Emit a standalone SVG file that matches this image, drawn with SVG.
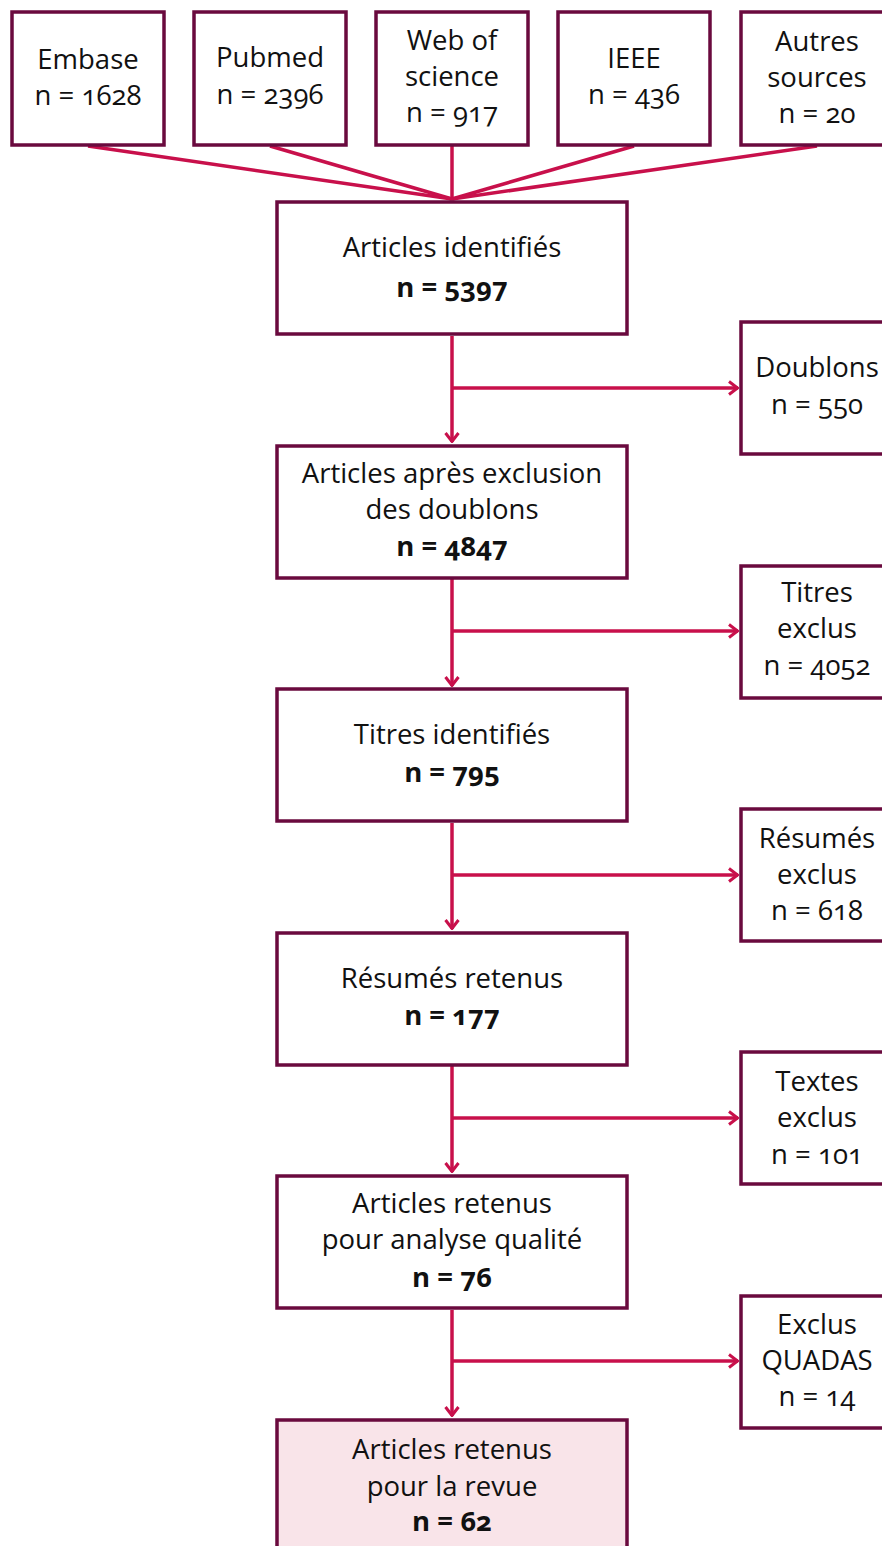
<svg xmlns="http://www.w3.org/2000/svg" width="882" height="1546" viewBox="0 0 882 1546">
<defs>
<style>
.box{fill:#ffffff;stroke:#6a0a3e;stroke-width:3.5}
.final{fill:#f9e4e9;stroke:#6a0a3e;stroke-width:3.5}
.t{font-family:"Open Sans","Liberation Sans",sans-serif;font-size:27.5px;fill:#111;text-anchor:middle;font-variant-numeric:oldstyle-nums}
.b{font-weight:bold}
.c{stroke:#c8104b;stroke-width:3.5;fill:none}
</style>
<marker id="chev" viewBox="0 0 12 16" refX="11" refY="8" markerWidth="12" markerHeight="16" markerUnits="userSpaceOnUse" orient="auto">
<path d="M2,1.5 L10.5,8 L2,14.5" fill="none" stroke="#c8104b" stroke-width="3"/>
</marker>
</defs>
<rect width="882" height="1546" fill="#ffffff"/>
<g id="connectors">
<line class="c" x1="88" y1="146" x2="452" y2="199"/>
<line class="c" x1="270" y1="146" x2="452" y2="199"/>
<line class="c" x1="452" y1="146" x2="452" y2="199"/>
<line class="c" x1="634" y1="146" x2="452" y2="199"/>
<line class="c" x1="817" y1="146" x2="452" y2="199"/>
<line class="c" x1="452" y1="336" x2="452" y2="442" marker-end="url(#chev)"/>
<line class="c" x1="452" y1="388" x2="738" y2="388" marker-end="url(#chev)"/>
<line class="c" x1="452" y1="579" x2="452" y2="686" marker-end="url(#chev)"/>
<line class="c" x1="452" y1="631" x2="738" y2="631" marker-end="url(#chev)"/>
<line class="c" x1="452" y1="823" x2="452" y2="929" marker-end="url(#chev)"/>
<line class="c" x1="452" y1="875" x2="738" y2="875" marker-end="url(#chev)"/>
<line class="c" x1="452" y1="1066" x2="452" y2="1172" marker-end="url(#chev)"/>
<line class="c" x1="452" y1="1118" x2="738" y2="1118" marker-end="url(#chev)"/>
<line class="c" x1="452" y1="1310" x2="452" y2="1416" marker-end="url(#chev)"/>
<line class="c" x1="452" y1="1361" x2="738" y2="1361" marker-end="url(#chev)"/>
</g>
<g id="embase"><rect class="box" x="12" y="12" width="152" height="133"/>
<text class="t" x="88" y="69">Embase</text><text class="t" x="88" y="105">n = 1628</text></g>
<g id="pubmed"><rect class="box" x="194" y="12" width="152" height="133"/>
<text class="t" x="270" y="67">Pubmed</text><text class="t" x="270" y="104">n = 2396</text></g>
<g id="wos"><rect class="box" x="376" y="12" width="152" height="133"/>
<text class="t" x="452" y="50">Web of</text><text class="t" x="452" y="86">science</text><text class="t" x="452" y="122">n = 917</text></g>
<g id="ieee"><rect class="box" x="558" y="12" width="152" height="133"/>
<text class="t" x="634" y="68">IEEE</text><text class="t" x="634" y="104">n = 436</text></g>
<g id="autres"><rect class="box" x="741" y="12" width="152" height="133"/>
<text class="t" x="817" y="51">Autres</text><text class="t" x="817" y="87">sources</text><text class="t" x="817" y="123">n = 20</text></g>
<g id="identifies"><rect class="box" x="277" y="202" width="350" height="132"/>
<text class="t" x="452" y="257">Articles identifiés</text><text class="t b" x="452" y="297">n = 5397</text></g>
<g id="doublons"><rect class="box" x="741" y="322" width="152" height="132"/>
<text class="t" x="817" y="377">Doublons</text><text class="t" x="817" y="414">n = 550</text></g>
<g id="apres"><rect class="box" x="277" y="446" width="350" height="132"/>
<text class="t" x="452" y="483">Articles après exclusion</text><text class="t" x="452" y="519">des doublons</text><text class="t b" x="452" y="556">n = 4847</text></g>
<g id="titres-exclus"><rect class="box" x="741" y="566" width="152" height="132"/>
<text class="t" x="817" y="602">Titres</text><text class="t" x="817" y="638">exclus</text><text class="t" x="817" y="675">n = 4052</text></g>
<g id="titres"><rect class="box" x="277" y="689" width="350" height="132"/>
<text class="t" x="452" y="744">Titres identifiés</text><text class="t b" x="452" y="782">n = 795</text></g>
<g id="resumes-exclus"><rect class="box" x="741" y="809" width="152" height="132"/>
<text class="t" x="817" y="848">Résumés</text><text class="t" x="817" y="884">exclus</text><text class="t" x="817" y="920">n = 618</text></g>
<g id="resumes"><rect class="box" x="277" y="933" width="350" height="132"/>
<text class="t" x="452" y="988">Résumés retenus</text><text class="t b" x="452" y="1025">n = 177</text></g>
<g id="textes-exclus"><rect class="box" x="741" y="1052" width="152" height="132"/>
<text class="t" x="817" y="1091">Textes</text><text class="t" x="817" y="1127">exclus</text><text class="t" x="817" y="1164">n = 101</text></g>
<g id="qualite"><rect class="box" x="277" y="1176" width="350" height="132"/>
<text class="t" x="452" y="1213">Articles retenus</text><text class="t" x="452" y="1249">pour analyse qualité</text><text class="t b" x="452" y="1287">n = 76</text></g>
<g id="quadas"><rect class="box" x="741" y="1296" width="152" height="132"/>
<text class="t" x="817" y="1334">Exclus</text><text class="t" x="817" y="1370">QUADAS</text><text class="t" x="817" y="1406">n = 14</text></g>
<g id="revue"><rect class="final" x="277" y="1420" width="350" height="140"/>
<text class="t" x="452" y="1459">Articles retenus</text><text class="t" x="452" y="1496">pour la revue</text><text class="t b" x="452" y="1531">n = 62</text></g>
</svg>
